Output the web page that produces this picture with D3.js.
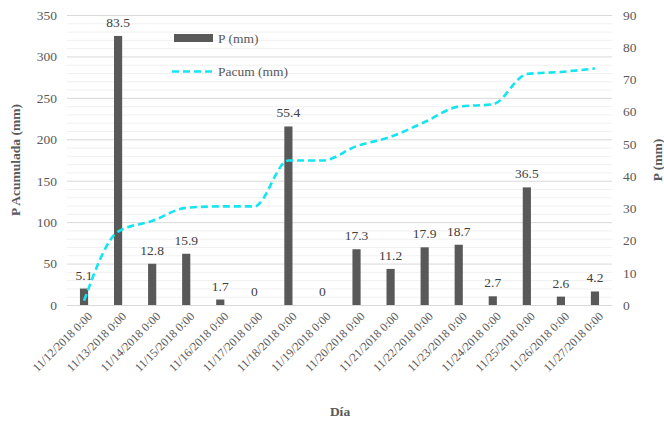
<!DOCTYPE html>
<html>
<head>
<meta charset="utf-8">
<script src="https://cdn.jsdelivr.net/npm/d3@7"></script>
<style>
  html, body { margin: 0; padding: 0; background: #fff; }
  text { font-family: "Liberation Serif", "Times New Roman", serif; }
</style>
</head>
<body>
<svg id="chart" width="664" height="423" font-family="Liberation Serif"></svg>
<script>
const categories = ["11/12/2018 0:00","11/13/2018 0:00","11/14/2018 0:00","11/15/2018 0:00","11/16/2018 0:00","11/17/2018 0:00","11/18/2018 0:00","11/19/2018 0:00","11/20/2018 0:00","11/21/2018 0:00","11/22/2018 0:00","11/23/2018 0:00","11/24/2018 0:00","11/25/2018 0:00","11/26/2018 0:00","11/27/2018 0:00"];
const P = [5.1, 83.5, 12.8, 15.9, 1.7, 0, 55.4, 0, 17.3, 11.2, 17.9, 18.7, 2.7, 36.5, 2.6, 4.2];
const Pacum = [5.1, 88.6, 101.4, 117.3, 119.0, 119.0, 174.4, 174.4, 191.7, 202.9, 220.8, 239.5, 242.2, 278.7, 281.3, 285.5];
const leftTicks = [0, 50, 100, 150, 200, 250, 300, 350];
const rightTicks = [0, 10, 20, 30, 40, 50, 60, 70, 80, 90];

const svg = d3.select("#chart");
const m = { left: 67, right: 612, top: 15, bottom: 305 };
const txt = "#595959";

const x = d3.scaleBand().domain(categories).range([m.left, m.right]).paddingInner(0.76).paddingOuter(0.38);
const yL = d3.scaleLinear().domain([0, 350]).range([m.bottom, m.top]);
const yR = d3.scaleLinear().domain([0, 90]).range([m.bottom, m.top]);

// minor gridlines
const minor = d3.range(0, 351, 10).filter(v => v % 50 !== 0);
svg.append("g").selectAll("line").data(minor).join("line")
  .attr("x1", m.left).attr("x2", m.right)
  .attr("y1", d => yL(d) + 0.5).attr("y2", d => yL(d) + 0.5)
  .attr("stroke", "#f0f0f0").attr("stroke-width", 1);
// major gridlines
svg.append("g").selectAll("line").data(leftTicks).join("line")
  .attr("x1", m.left).attr("x2", m.right)
  .attr("y1", d => yL(d) + 0.5).attr("y2", d => yL(d) + 0.5)
  .attr("stroke", "#d9d9d9").attr("stroke-width", 1);

// left axis
const axL = svg.append("g").attr("transform", `translate(${m.left},0)`)
  .call(d3.axisLeft(yL).tickValues(leftTicks).tickSize(0).tickPadding(10));
axL.attr("font-family", "Liberation Serif");
axL.select(".domain").remove();
axL.selectAll("text").attr("fill", txt).style("font-size", "13.5px");

// right axis
const axR = svg.append("g").attr("transform", `translate(${m.right},0)`)
  .call(d3.axisRight(yR).tickValues(rightTicks).tickSize(0).tickPadding(11));
axR.attr("font-family", "Liberation Serif");
axR.select(".domain").remove();
axR.selectAll("text").attr("fill", txt).style("font-size", "13.5px");

// bars
svg.append("g").selectAll("rect").data(P).join("rect")
  .attr("x", (d, i) => x(categories[i]))
  .attr("width", x.bandwidth())
  .attr("y", d => yR(d))
  .attr("height", d => m.bottom - yR(d))
  .attr("fill", "#595959");

// bar labels
svg.append("g").selectAll("text").data(P).join("text")
  .attr("x", (d, i) => x(categories[i]) + x.bandwidth() / 2)
  .attr("y", d => yR(d) - 9)
  .attr("text-anchor", "middle")
  .attr("fill", "#404040")
  .style("font-size", "13.5px")
  .text(d => d.toString());

// line
const line = d3.line()
  .x((d, i) => x(categories[i]) + x.bandwidth() / 2)
  .y(d => yL(d))
  .curve(d3.curveMonotoneX);
svg.append("path").datum(Pacum)
  .attr("d", line)
  .attr("fill", "none")
  .attr("stroke", "#14e6f0")
  .attr("stroke-width", 2.6)
  .attr("stroke-dasharray", "7,4");

// x labels
svg.append("g").selectAll("text").data(categories).join("text")
  .attr("transform", d => `translate(${x(d) + x.bandwidth() / 2 + 6},${m.bottom + 9}) rotate(-45)`)
  .attr("text-anchor", "end")
  .attr("dy", "0.35em")
  .attr("fill", txt)
  .style("font-size", "12px")
  .text(d => d);

// axis titles
svg.append("text").attr("x", 340).attr("y", 416).attr("text-anchor", "middle")
  .attr("fill", txt).style("font-size", "13.5px").style("font-weight", "bold").text("Día");
svg.append("text").attr("transform", `translate(20,160) rotate(-90)`).attr("text-anchor", "middle")
  .attr("fill", txt).style("font-size", "13.5px").style("font-weight", "bold").text("P Acumulada (mm)");
svg.append("text").attr("transform", `translate(662,160) rotate(-90)`).attr("text-anchor", "middle")
  .attr("fill", txt).style("font-size", "13.5px").style("font-weight", "bold").text("P (mm)");

// legend
svg.append("rect").attr("x", 174).attr("y", 34).attr("width", 39).attr("height", 8).attr("fill", "#595959");
svg.append("text").attr("x", 218).attr("y", 43).attr("fill", txt).style("font-size", "13.5px").text("P (mm)");
svg.append("line").attr("x1", 172).attr("x2", 213).attr("y1", 71.5).attr("y2", 71.5)
  .attr("stroke", "#14e6f0").attr("stroke-width", 2.6).attr("stroke-dasharray", "7,4");
svg.append("text").attr("x", 218).attr("y", 76).attr("fill", txt).style("font-size", "13.5px").text("Pacum (mm)");
</script>
</body>
</html>
